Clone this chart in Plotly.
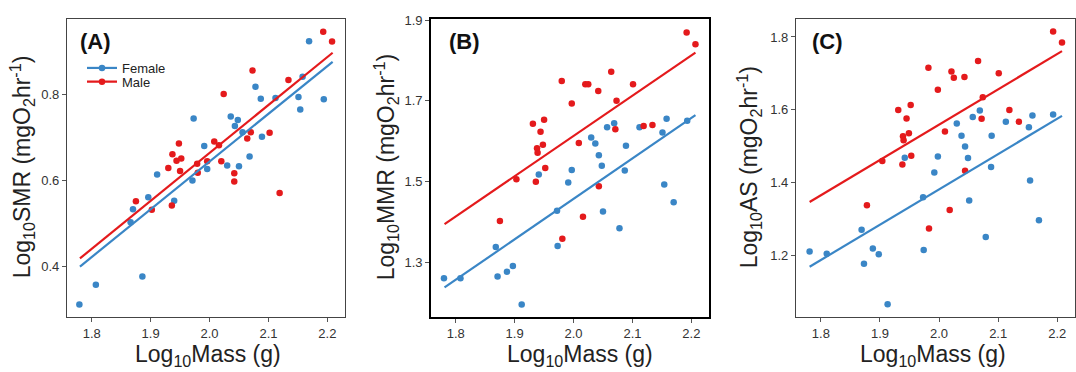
import plotly.graph_objects as go

BLUE = "#3A86C6"
RED = "#E41A1C"

# ---------------- Panel A : SMR ----------------
smr_f_x = [1.779, 1.807, 1.886, 1.866, 1.870, 1.896, 1.911, 1.940, 1.973, 1.971, 1.991, 1.996, 2.030, 2.036,
           2.043, 2.048, 2.050, 2.056, 2.068, 2.078, 2.087, 2.089, 2.112, 2.151, 2.154, 2.158, 2.169, 2.194]
smr_f_y = [0.312, 0.358, 0.377, 0.503, 0.533, 0.561, 0.614, 0.553, 0.744, 0.600, 0.680, 0.627, 0.635, 0.749,
           0.727, 0.741, 0.633, 0.712, 0.656, 0.818, 0.790, 0.702, 0.792, 0.794, 0.765, 0.841, 0.924, 0.789]
smr_m_x = [1.875, 1.902, 1.936, 1.930, 1.937, 1.944, 1.948, 1.952, 1.950, 1.979, 1.980, 1.996, 2.008, 2.016,
           2.020, 2.024, 2.042, 2.042, 2.064, 2.070, 2.073, 2.102, 2.119, 2.134, 2.193, 2.208]
smr_m_y = [0.552, 0.532, 0.542, 0.629, 0.661, 0.646, 0.686, 0.651, 0.622, 0.639, 0.618, 0.645, 0.691, 0.682,
           0.645, 0.801, 0.617, 0.598, 0.698, 0.712, 0.856, 0.711, 0.571, 0.834, 0.946, 0.923]
smr_fit_x = [1.780, 2.209]
smr_fit_f = [0.400, 0.876]
smr_fit_m = [0.419, 0.897]

# ---------------- Panel B : MMR ----------------
mmr_f_x = [1.780, 1.808, 1.868, 1.871, 1.887, 1.897, 1.912, 1.941, 1.972, 1.973, 1.991, 1.997, 2.030, 2.037,
           2.043, 2.048, 2.050, 2.057, 2.069, 2.078, 2.087, 2.089, 2.112, 2.151, 2.154, 2.158, 2.170, 2.193]
mmr_f_y = [1.260, 1.260, 1.337, 1.264, 1.276, 1.290, 1.195, 1.517, 1.427, 1.340, 1.497, 1.528, 1.609, 1.594,
           1.565, 1.539, 1.425, 1.634, 1.644, 1.384, 1.527, 1.588, 1.634, 1.621, 1.492, 1.655, 1.448, 1.650]
mmr_m_x = [1.875, 1.903, 1.931, 1.936, 1.938, 1.939, 1.944, 1.948, 1.950, 1.952, 1.980, 1.981, 1.997, 2.009,
           2.016, 2.020, 2.025, 2.042, 2.043, 2.064, 2.071, 2.073, 2.101, 2.119, 2.134, 2.192, 2.207]
mmr_m_y = [1.402, 1.505, 1.643, 1.499, 1.582, 1.571, 1.623, 1.591, 1.653, 1.533, 1.749, 1.358, 1.693, 1.595,
           1.412, 1.741, 1.741, 1.724, 1.488, 1.772, 1.629, 1.700, 1.741, 1.637, 1.640, 1.869, 1.840]
mmr_fit_x = [1.781, 2.207]
mmr_fit_f = [1.237, 1.664]
mmr_fit_m = [1.394, 1.819]

# ---------------- Panel C : AS ----------------
as_f_x = [1.781, 1.810, 1.869, 1.873, 1.888, 1.898, 1.913, 1.942, 1.973, 1.974, 1.992, 1.998, 2.030, 2.038,
          2.044, 2.049, 2.051, 2.057, 2.069, 2.079, 2.088, 2.089, 2.113, 2.152, 2.154, 2.158, 2.169, 2.193]
as_f_y = [1.210, 1.204, 1.270, 1.176, 1.218, 1.202, 1.065, 1.468, 1.359, 1.214, 1.427, 1.471, 1.562, 1.528,
          1.499, 1.467, 1.350, 1.580, 1.598, 1.250, 1.442, 1.528, 1.567, 1.552, 1.405, 1.584, 1.296, 1.587]
as_m_x = [1.878, 1.904, 1.931, 1.938, 1.939, 1.940, 1.945, 1.949, 1.952, 1.953, 1.982, 1.983, 1.998, 2.010,
          2.018, 2.021, 2.025, 2.043, 2.044, 2.066, 2.072, 2.074, 2.101, 2.119, 2.135, 2.193, 2.208]
as_m_y = [1.337, 1.459, 1.599, 1.449, 1.527, 1.516, 1.576, 1.535, 1.613, 1.473, 1.715, 1.273, 1.655, 1.540,
          1.324, 1.705, 1.688, 1.690, 1.432, 1.734, 1.575, 1.634, 1.700, 1.599, 1.567, 1.815, 1.785]
as_fit_x = [1.781, 2.208]
as_fit_f = [1.168, 1.583]
as_fit_m = [1.346, 1.761]

panels = [
    dict(fx=smr_f_x, fy=smr_f_y, mx=smr_m_x, my=smr_m_y, lx=smr_fit_x, lf=smr_fit_f, lm=smr_fit_m,
         yr=[0.283, 0.976], yt=[0.4, 0.6, 0.8], label="(A)", ytitle="Log<sub>10</sub>SMR (mgO<sub>2</sub>hr<sup>-1</sup>)"),
    dict(fx=mmr_f_x, fy=mmr_f_y, mx=mmr_m_x, my=mmr_m_y, lx=mmr_fit_x, lf=mmr_fit_f, lm=mmr_fit_m,
         yr=[1.164, 1.903], yt=[1.3, 1.5, 1.7, 1.9], label="(B)", ytitle="Log<sub>10</sub>MMR (mgO<sub>2</sub>hr<sup>-1</sup>)"),
    dict(fx=as_f_x, fy=as_f_y, mx=as_m_x, my=as_m_y, lx=as_fit_x, lf=as_fit_f, lm=as_fit_m,
         yr=[1.030, 1.850], yt=[1.2, 1.4, 1.6, 1.8], label="(C)", ytitle="Log<sub>10</sub>AS (mgO<sub>2</sub>hr<sup>-1</sup>)"),
]
x_ticks = [1.8, 1.9, 2.0, 2.1, 2.2]

W, H = 1076, 372
x_dom_px = [(67, 345), (431, 709), (796, 1075)]
y_dom = [1 - 316 / H, 1 - 13 / H]
ytitle_x_px = [22, 386, 749]
xtitle_x_px = [208, 580, 933]
label_x_px = [78, 447, 810]

fig = go.Figure()
layout = dict(width=W, height=H, margin=dict(l=0, r=0, t=0, b=0),
              plot_bgcolor="white", paper_bgcolor="white",
              font=dict(family="Liberation Sans, Arial, sans-serif", color="#222"),
              annotations=[])

for i, p in enumerate(panels):
    sfx = "" if i == 0 else str(i + 1)
    xa, ya = "x" + sfx, "y" + sfx
    fig.add_trace(go.Scatter(x=p["fx"], y=p["fy"], mode="markers", xaxis=xa, yaxis=ya,
                             marker=dict(color=BLUE, size=6.5), showlegend=False))
    fig.add_trace(go.Scatter(x=p["mx"], y=p["my"], mode="markers", xaxis=xa, yaxis=ya,
                             marker=dict(color=RED, size=6.5), showlegend=False))
    fig.add_trace(go.Scatter(x=p["lx"], y=p["lf"], mode="lines", xaxis=xa, yaxis=ya,
                             line=dict(color=BLUE, width=2.2), showlegend=False))
    fig.add_trace(go.Scatter(x=p["lx"], y=p["lm"], mode="lines", xaxis=xa, yaxis=ya,
                             line=dict(color=RED, width=2.2), showlegend=False))
    lc = "black" if i == 1 else "#444"
    lw = 1.6 if i == 1 else 1.1
    layout["xaxis" + sfx] = dict(domain=[x_dom_px[i][0] / W, x_dom_px[i][1] / W], range=[1.758, 2.230],
                                 anchor=ya, tickvals=x_ticks, ticktext=["1.8", "1.9", "2.0", "2.1", "2.2"],
                                 showgrid=False, zeroline=False, showline=True, linecolor=lc, linewidth=lw,
                                 mirror=True, ticks="outside", ticklen=4, tickcolor="#555", tickwidth=1,
                                 tickfont=dict(size=13, color="#333"))
    layout["yaxis" + sfx] = dict(domain=y_dom, range=p["yr"], anchor=xa, tickvals=p["yt"],
                                 ticktext=[f"{v:.1f}" for v in p["yt"]],
                                 showgrid=False, zeroline=False, showline=True, linecolor=lc, linewidth=lw,
                                 mirror=True, ticks="outside", ticklen=4, tickcolor="#555", tickwidth=1,
                                 tickfont=dict(size=13, color="#333"))
    layout["annotations"].append(dict(text=p["ytitle"], x=ytitle_x_px[i] / W, y=(1 - 164 / H),
                                      xref="paper", yref="paper", showarrow=False, textangle=-90,
                                      font=dict(size=23, color="#222"), xanchor="center", yanchor="middle"))
    layout["annotations"].append(dict(text="Log<sub>10</sub>Mass (g)", x=xtitle_x_px[i] / W, y=1 - 355 / H,
                                      xref="paper", yref="paper", showarrow=False,
                                      font=dict(size=23, color="#222"), xanchor="center", yanchor="middle"))
    layout["annotations"].append(dict(text="<b>" + p["label"] + "</b>", x=label_x_px[i] / W, y=1 - 36 / H,
                                      xref="paper", yref="paper", showarrow=False,
                                      font=dict(size=22, color="#111"), xanchor="left", yanchor="middle"))

# legend entries (panel A), one legend per entry for tight spacing
fig.add_trace(go.Scatter(x=[None], y=[None], mode="lines+markers", name="Female", legend="legend",
                         line=dict(color=BLUE, width=2.2), marker=dict(color=BLUE, size=6.5)))
fig.add_trace(go.Scatter(x=[None], y=[None], mode="lines+markers", name="Male", legend="legend2",
                         line=dict(color=RED, width=2.2), marker=dict(color=RED, size=6.5)))
leg_common = dict(xanchor="left", yanchor="middle", bgcolor="rgba(0,0,0,0)",
                  font=dict(size=13, color="#222"), itemwidth=30)
layout["legend"] = dict(x=82 / W, y=1 - 63 / H, **leg_common)
layout["legend2"] = dict(x=82 / W, y=1 - 77 / H, **leg_common)
layout["showlegend"] = True

fig.update_layout(**layout)
fig.write_html("out.html")
